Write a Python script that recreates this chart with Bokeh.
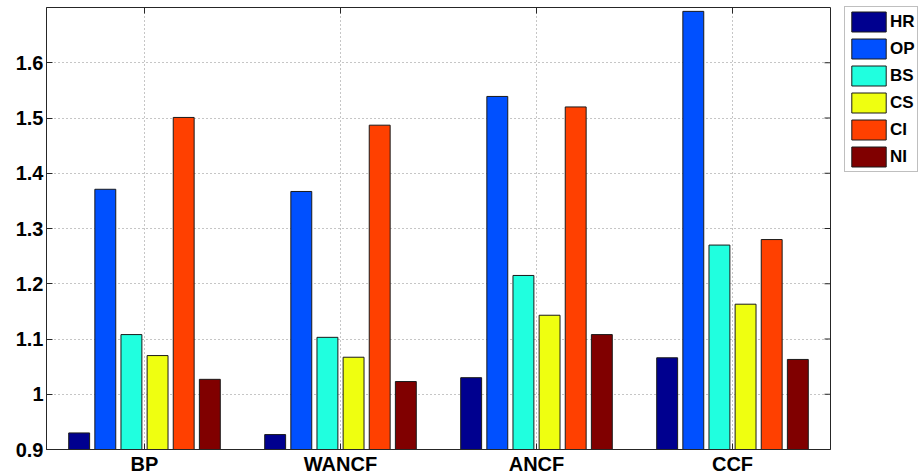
import math
from bokeh.plotting import figure
from bokeh.models import (Range1d, FixedTicker, Legend, LegendItem, ColumnDataSource)
from bokeh.embed import file_html
from bokeh.resources import INLINE

categories = ["BP", "WANCF", "ANCF", "CCF"]
series = ["HR", "OP", "BS", "CS", "CI", "NI"]
hr = [0.930, 0.927, 1.030, 1.066]
op = [1.371, 1.367, 1.539, 1.693]
bs = [1.108, 1.103, 1.215, 1.270]
cs = [1.070, 1.067, 1.143, 1.163]
ci = [1.501, 1.487, 1.520, 1.280]
ni = [1.027, 1.023, 1.108, 1.063]
colors = ["#00008F", "#0050FF", "#20FFDF", "#EFFF10", "#FF4000", "#800000"]
y_ticks = [0.9, 1.0, 1.1, 1.2, 1.3, 1.4, 1.5, 1.6]
y_tick_labels = ["0.9", "1", "1.1", "1.2", "1.3", "1.4", "1.5", "1.6"]
y_min, y_max = 0.9, 1.7

FONT = "Liberation Sans"
AX = "#262626"

values = [hr, op, bs, cs, ci, ni]
x_ticks = list(range(1, len(categories) + 1))
x_min, x_max = 0.5, len(categories) + 0.5

LEFT, RIGHT, TOP, BOTTOM = 46, 89, 7, 27
FW, FH = 784, 442

p = figure(x_range=Range1d(x_min, x_max), y_range=Range1d(y_min, y_max),
           frame_width=FW, frame_height=FH, output_backend="svg", toolbar_location=None,
           min_border_left=LEFT, min_border_top=TOP, min_border_bottom=BOTTOM,
           min_border_right=RIGHT)

slot = 0.8 / len(series)
bar_w = slot * 0.8
items = []
for i, (name, col, vals) in enumerate(zip(series, colors, values)):
    off = (i - (len(series) - 1) / 2) * slot
    src = ColumnDataSource(dict(x=[t + off for t in x_ticks], top=vals))
    r = p.vbar(x="x", top="top", bottom=0, width=bar_w, source=src,
               fill_color=col, line_color="#1a1a1a", line_width=1)
    items.append(LegendItem(label=name, renderers=[r]))

# grids
p.xgrid.ticker = FixedTicker(ticks=x_ticks)
p.ygrid.ticker = FixedTicker(ticks=y_ticks)
for g in (p.xgrid, p.ygrid):
    g.grid_line_color = "#8c8c8c"
    g.grid_line_dash = "1 3"
    g.grid_line_width = 1

# left axis
ya = p.yaxis[0]
ya.ticker = FixedTicker(ticks=y_ticks)
ya.major_label_overrides = dict(zip(y_ticks, y_tick_labels))
ya.major_label_text_font = FONT
ya.major_label_text_font_style = "bold"
ya.major_label_text_font_size = "20px"
ya.major_label_text_color = "black"
ya.major_tick_in = 6
ya.major_tick_out = 0
ya.minor_tick_line_color = None
ya.axis_line_color = AX
ya.major_tick_line_color = AX
ya.major_label_standoff = 3

# bottom axis
xa = p.xaxis[0]
xa.ticker = FixedTicker(ticks=x_ticks)
xa.major_label_overrides = dict(zip(x_ticks, categories))
xa.major_label_text_font = FONT
xa.major_label_text_font_style = "bold"
xa.major_label_text_font_size = "20px"
xa.major_label_text_color = "black"
xa.major_tick_in = 6
xa.major_tick_out = 0
xa.minor_tick_line_color = None
xa.axis_line_color = AX
xa.major_tick_line_color = AX
xa.major_label_standoff = 3

p.outline_line_color = AX

# box ticks on top and right edges (MATLAB style)
p.ray(x=[x_max] * len(y_ticks), y=y_ticks, length=6, length_units="screen",
      angle=math.pi, line_color=AX, line_width=1)
p.ray(x=x_ticks, y=[y_max] * len(x_ticks), length=6, length_units="screen",
      angle=-math.pi / 2, line_color=AX, line_width=1)

GW, GH, SP, PAD = 43, 25, 2, 2
legend = Legend(items=items,
                label_text_font=FONT, label_text_font_style="bold",
                label_text_font_size="17px", label_text_color="black",
                glyph_width=GW, glyph_height=GH, label_height=GH, label_standoff=0,
                spacing=SP, padding=PAD, margin=0,
                border_line_color="#7f7f7f", border_line_width=1,
                background_fill_color="white")
leg_h = 2 * PAD + len(series) * GH + (len(series) - 1) * SP
legend.location = (14, FH - leg_h - 1)
p.add_layout(legend, "right")

open("out.html", "w").write(file_html(p, INLINE))
